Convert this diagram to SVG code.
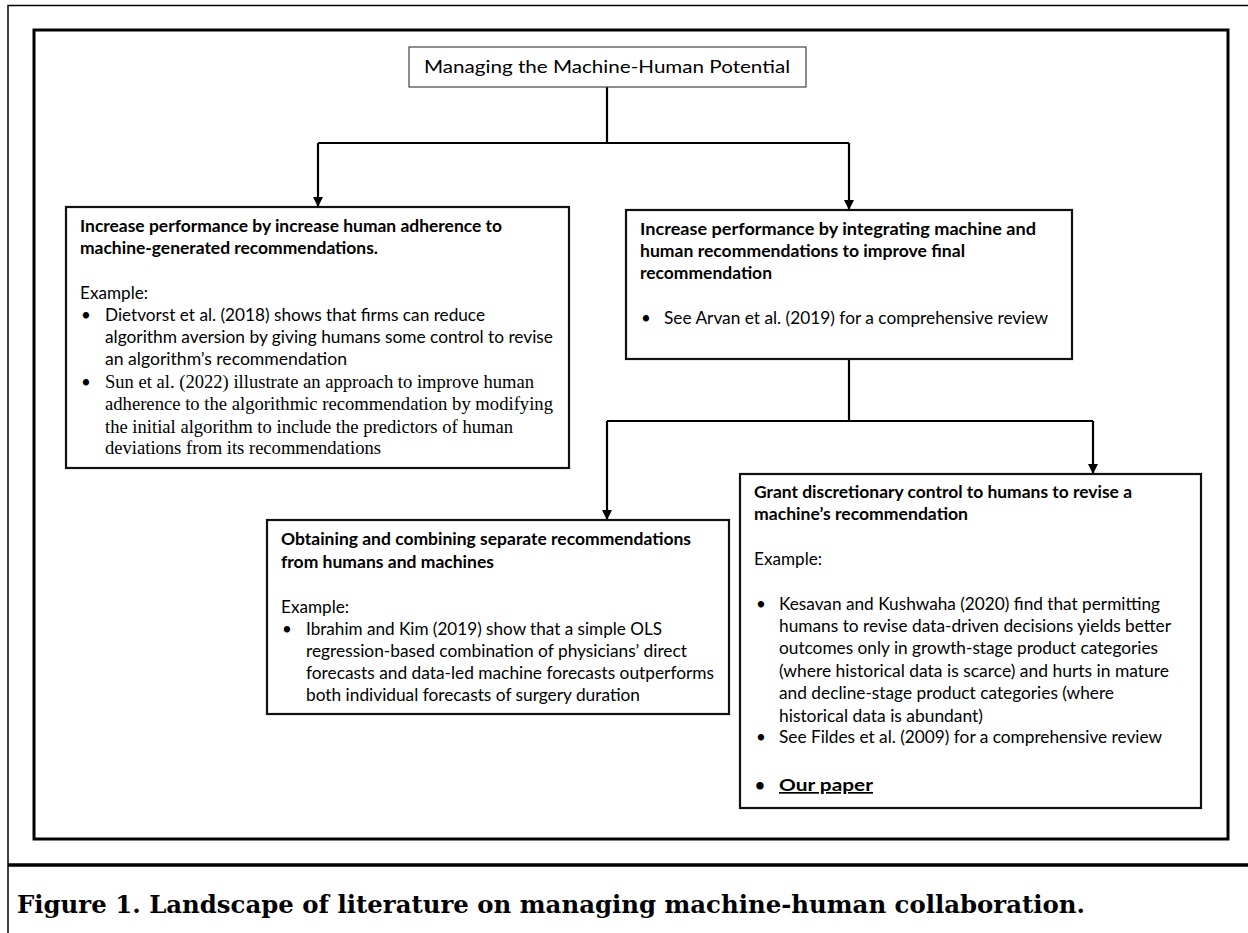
<svg xmlns="http://www.w3.org/2000/svg" width="1248" height="933" viewBox="0 0 1248 933">
<defs>
<marker id="arr" viewBox="0 0 10 10" refX="10" refY="5" markerWidth="10" markerHeight="10" markerUnits="userSpaceOnUse" orient="auto">
<path d="M0,0 L10,5 L0,10 Z" fill="#000"/>
</marker>
<style>
.frame{fill:none;stroke:#000}
.box{fill:#fff;stroke:#111;stroke-width:2.2}
.tbox{fill:#fff;stroke:#444;stroke-width:1.2}
.conn{fill:none;stroke:#000;stroke-width:2.2}
.s{font-family:Lato,"Liberation Sans",sans-serif;font-size:17px;fill:#000}
.b{font-weight:bold}
.t{font-family:"Liberation Serif",serif;font-size:18px;fill:#000}
.cap{font-family:"DejaVu Serif","Liberation Serif",serif;font-size:25px;font-weight:bold;fill:#000}
</style>
</defs>
<rect width="1248" height="933" fill="#fff"/>
<!-- outer page frame -->
<path class="frame" d="M1248,5.5 H8 V933" stroke-width="1.5"/>
<line class="frame" x1="8" y1="865" x2="1248" y2="865" stroke-width="3.5"/>
<rect class="frame" x="34" y="30" width="1194" height="809" stroke-width="3"/>

<g id="connectors">
<path class="conn" d="M607,87 V143"/>
<path class="conn" d="M318,143 H849"/>
<path class="conn" d="M318,143 V207" marker-end="url(#arr)"/>
<path class="conn" d="M849,143 V210" marker-end="url(#arr)"/>
<path class="conn" d="M849,359 V421"/>
<path class="conn" d="M607,421 H1093"/>
<path class="conn" d="M607,421 V520" marker-end="url(#arr)"/>
<path class="conn" d="M1093,421 V474" marker-end="url(#arr)"/>
</g>

<g id="title">
<rect class="tbox" x="409" y="47" width="397" height="40"/>
<text class="s" x="424" y="73" font-size="18" textLength="366" lengthAdjust="spacingAndGlyphs">Managing the Machine-Human Potential</text>
</g>

<g id="adherence">
<rect class="box" x="66" y="207" width="503" height="261"/>
<text class="s b" x="80" y="232" textLength="422" lengthAdjust="spacingAndGlyphs">Increase performance by increase human adherence to</text>
<text class="s b" x="80" y="254" textLength="298" lengthAdjust="spacingAndGlyphs">machine-generated recommendations.</text>
<text class="s" x="80" y="299" textLength="68" lengthAdjust="spacingAndGlyphs">Example:</text>
<text class="s" x="81" y="321">•</text>
<text class="s" x="105" y="321" textLength="380" lengthAdjust="spacingAndGlyphs">Dietvorst et al. (2018) shows that firms can reduce</text>
<text class="s" x="105" y="343" textLength="448" lengthAdjust="spacingAndGlyphs">algorithm aversion by giving humans some control to revise</text>
<text class="s" x="105" y="365" textLength="242" lengthAdjust="spacingAndGlyphs">an algorithm’s recommendation</text>
<text class="s" x="81" y="388">•</text>
<text class="t" x="105" y="388" textLength="429" lengthAdjust="spacingAndGlyphs">Sun et al. (2022) illustrate an approach to improve human</text>
<text class="t" x="105" y="410" textLength="448" lengthAdjust="spacingAndGlyphs">adherence to the algorithmic recommendation by modifying</text>
<text class="t" x="105" y="433" textLength="408" lengthAdjust="spacingAndGlyphs">the initial algorithm to include the predictors of human</text>
<text class="t" x="105" y="454" textLength="276" lengthAdjust="spacingAndGlyphs">deviations from its recommendations</text>
</g>

<g id="integrating">
<rect class="box" x="626" y="210" width="446" height="149"/>
<text class="s b" x="640" y="235" textLength="396" lengthAdjust="spacingAndGlyphs">Increase performance by integrating machine and</text>
<text class="s b" x="640" y="257" textLength="325" lengthAdjust="spacingAndGlyphs">human recommendations to improve final</text>
<text class="s b" x="640" y="279" textLength="132" lengthAdjust="spacingAndGlyphs">recommendation</text>
<text class="s" x="641" y="324">•</text>
<text class="s" x="664" y="324" textLength="384" lengthAdjust="spacingAndGlyphs">See Arvan et al. (2019) for a comprehensive review</text>
</g>

<g id="combining">
<rect class="box" x="267" y="520" width="462" height="194"/>
<text class="s b" x="281" y="545" textLength="410" lengthAdjust="spacingAndGlyphs">Obtaining and combining separate recommendations</text>
<text class="s b" x="281" y="568" textLength="213" lengthAdjust="spacingAndGlyphs">from humans and machines</text>
<text class="s" x="281" y="613" textLength="68" lengthAdjust="spacingAndGlyphs">Example:</text>
<text class="s" x="282" y="635">•</text>
<text class="s" x="306" y="635" textLength="356" lengthAdjust="spacingAndGlyphs">Ibrahim and Kim (2019) show that a simple OLS</text>
<text class="s" x="306" y="657" textLength="381" lengthAdjust="spacingAndGlyphs">regression-based combination of physicians’ direct</text>
<text class="s" x="306" y="679" textLength="408" lengthAdjust="spacingAndGlyphs">forecasts and data-led machine forecasts outperforms</text>
<text class="s" x="306" y="701" textLength="334" lengthAdjust="spacingAndGlyphs">both individual forecasts of surgery duration</text>
</g>

<g id="discretionary">
<rect class="box" x="740" y="474" width="461" height="334"/>
<text class="s b" x="754" y="498" textLength="378" lengthAdjust="spacingAndGlyphs">Grant discretionary control to humans to revise a</text>
<text class="s b" x="754" y="520" textLength="214" lengthAdjust="spacingAndGlyphs">machine’s recommendation</text>
<text class="s" x="754" y="565" textLength="68" lengthAdjust="spacingAndGlyphs">Example:</text>
<text class="s" x="756" y="610">•</text>
<text class="s" x="779" y="610" textLength="381" lengthAdjust="spacingAndGlyphs">Kesavan and Kushwaha (2020) find that permitting</text>
<text class="s" x="779" y="632" textLength="392" lengthAdjust="spacingAndGlyphs">humans to revise data-driven decisions yields better</text>
<text class="s" x="779" y="654" textLength="379" lengthAdjust="spacingAndGlyphs">outcomes only in growth-stage product categories</text>
<text class="s" x="779" y="677" textLength="390" lengthAdjust="spacingAndGlyphs">(where historical data is scarce) and hurts in mature</text>
<text class="s" x="779" y="699" textLength="335" lengthAdjust="spacingAndGlyphs">and decline-stage product categories (where</text>
<text class="s" x="779" y="722" textLength="204" lengthAdjust="spacingAndGlyphs">historical data is abundant)</text>
<text class="s" x="756" y="743">•</text>
<text class="s" x="779" y="743" textLength="383" lengthAdjust="spacingAndGlyphs">See Fildes et al. (2009) for a comprehensive review</text>
<text class="s b" x="755" y="791" font-size="20">•</text>
<text class="s b" x="779" y="791" font-size="20" text-decoration="underline" textLength="94" lengthAdjust="spacingAndGlyphs">Our paper</text>
</g>

<text class="cap" x="17" y="913" textLength="1068" lengthAdjust="spacingAndGlyphs">Figure 1. Landscape of literature on managing machine-human collaboration.</text>
</svg>
